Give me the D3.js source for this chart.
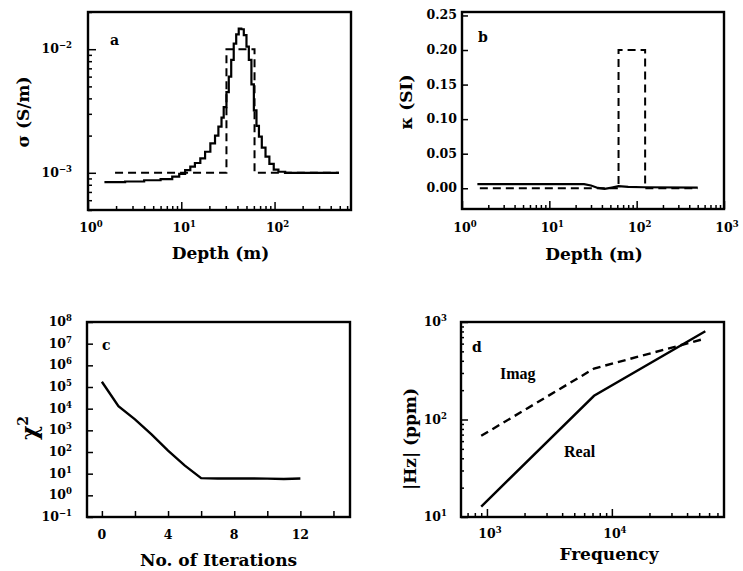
<!DOCTYPE html>
<html>
<head>
<meta charset="utf-8">
<script src="https://cdn.jsdelivr.net/npm/d3@7"></script>
<style>
  body { margin: 0; background: #fff; }
  svg text { fill: #000; }
</style>
</head>
<body>
<svg id="fig" width="743" height="571"></svg>
<script>
// ---- Panel a: conductivity vs depth (layer tops in m, value holds down to next top)
const depthInv = [1.5, 2.5, 4, 6, 8, 9.5, 11, 12.5, 14, 16, 18, 20.5, 23, 25, 27, 28.5, 30.5, 32.3, 34.3, 36.5,
                  38.8, 41.3, 44, 46.8, 50, 53, 56.5, 60, 64, 68, 73, 80, 88, 98, 110, 130, 490];
const sigmaInv = [8.4e-4, 8.5e-4, 8.7e-4, 8.9e-4, 9.3e-4, 9.8e-4, 1.05e-3, 1.12e-3, 1.2e-3, 1.31e-3,
                  1.48e-3, 1.73e-3, 2.0e-3, 2.36e-3, 2.8e-3, 3.4e-3, 4.5e-3, 6.0e-3, 8.2e-3, 1.11e-2,
                  1.32e-2, 1.47e-2, 1.45e-2, 1.3e-2, 1.05e-2, 8.2e-3, 5.2e-3, 3.2e-3, 2.4e-3, 1.96e-3,
                  1.6e-3, 1.35e-3, 1.18e-3, 1.06e-3, 1.02e-3, 1.0e-3, 1.0e-3];
const depthTrue = [1.95, 30.5, 61, 490];
const sigmaTrue = [1e-3, 1e-2, 1e-3, 1e-3];

// ---- Panel b: susceptibility vs depth
const depthKappaInv = [1.5, 25, 30, 36, 43, 52, 62, 80, 120, 500];
const kappaInv = [0.006, 0.006, 0.004, 0.0005, -0.001, 0.001, 0.003, 0.002, 0.0015, 0.001];
const depthKappaTrue = [1.6, 62, 125, 500];
const kappaTrue = [0, 0.2, 0, 0];

// ---- Panel c: misfit per iteration
const iterations = [0, 1, 2, 3, 4, 5, 6, 7, 8, 9, 10, 11, 12];
const chi2 = [1.74e5, 1.3e4, 3.2e3, 6.5e2, 1.15e2, 2.4e1, 6.2, 6.0, 6.0, 6.0, 5.9, 5.7, 6.0];

// ---- Panel d: Hz response vs frequency
const freq = [900, 7200, 56000];
const hzReal = [12.8, 175, 803];
const hzImag = [68, 333, 676];

// ---- Tick labels
const expTicksA_x = [0, 1, 2];
const expTicksA_y = [-3, -2];
const expTicksB_x = [0, 1, 2, 3];
const ticksB_y = [0, 0.05, 0.10, 0.15, 0.20, 0.25];
const ticksC_x = [0, 4, 8, 12];
const expTicksC_y = [-1, 0, 1, 2, 3, 4, 5, 6, 7, 8];
const expTicksD_x = [3, 4];
const expTicksD_y = [1, 2, 3];

const SERIF = "'DejaVu Serif', serif";
const svg = d3.select("#fig");

function frame(box) {
  svg.append("rect")
    .attr("x", box.x0).attr("y", box.y0)
    .attr("width", box.x1 - box.x0).attr("height", box.y1 - box.y0)
    .attr("fill", "none").attr("stroke", "#000").attr("stroke-width", 2.4);
}

// inward ticks on the bottom edge
function bottomTicks(box, x, values, len) {
  const g = svg.append("g").attr("transform", `translate(0,${box.y1})`)
    .call(d3.axisBottom(x).tickValues(values).tickSize(-len).tickFormat(""));
  g.select(".domain").remove();
  g.selectAll("line").attr("stroke", "#000").attr("stroke-width", 1.5);
}
// inward ticks on the left edge
function leftTicks(box, y, values, len) {
  const g = svg.append("g").attr("transform", `translate(${box.x0},0)`)
    .call(d3.axisLeft(y).tickValues(values).tickSize(-len).tickFormat(""));
  g.select(".domain").remove();
  g.selectAll("line").attr("stroke", "#000").attr("stroke-width", 1.5);
}

function powLabel(x, y, exp, anchor) {
  const t = svg.append("text").attr("x", x).attr("y", y)
    .attr("text-anchor", anchor).attr("font-family", SERIF)
    .attr("font-weight", "bold").attr("font-size", 12.5);
  t.append("tspan").text("10");
  t.append("tspan").attr("dy", -5).attr("font-size", 8.5)
    .text(exp < 0 ? "\u2212" + Math.abs(exp) : String(exp));
}

function axisTitle(x, y, text, rotate, size) {
  const t = svg.append("text").attr("font-family", SERIF).attr("font-weight", "bold")
    .attr("font-size", size || 17).attr("text-anchor", "middle");
  if (rotate) t.attr("transform", `translate(${x},${y}) rotate(-90)`);
  else t.attr("x", x).attr("y", y);
  return t.text(text);
}

function panelLetter(x, y, s) {
  svg.append("text").attr("x", x).attr("y", y).attr("font-family", SERIF)
    .attr("font-weight", "bold").attr("font-size", 14).text(s);
}

function isDecade(v) { return Math.abs(Math.log10(v) - Math.round(Math.log10(v))) < 1e-9; }

function drawLine(x, y, xs, ys, opts) {
  const pts = xs.map((d, i) => [d, ys[i]]);
  const line = d3.line().x(d => x(d[0])).y(d => y(d[1]));
  if (opts.step) line.curve(d3.curveStepAfter);
  svg.append("path").datum(pts).attr("d", line)
    .attr("fill", "none").attr("stroke", "#000")
    .attr("stroke-width", opts.width || 2)
    .attr("stroke-linejoin", "miter")
    .attr("stroke-dasharray", opts.dash ? "8,5" : null);
}

// ================= Panel a =================
{
  const box = { x0: 88, x1: 351, y0: 12, y1: 210 };
  const x = d3.scaleLog().domain([1, 660]).range([box.x0, box.x1]);
  const y = d3.scaleLog().domain([5e-4, 2e-2]).range([box.y1, box.y0]);
  const xt = x.ticks();
  bottomTicks(box, x, xt.filter(d => !isDecade(d)), 4);
  bottomTicks(box, x, xt.filter(isDecade), 8);
  const yt = y.ticks();
  leftTicks(box, y, yt.filter(d => !isDecade(d)), 4);
  leftTicks(box, y, yt.filter(isDecade), 8);
  expTicksA_x.forEach(e => powLabel(x(Math.pow(10, e)) + 3, box.y1 + 22, e, "middle"));
  expTicksA_y.forEach(e => powLabel(box.x0 - 16, y(Math.pow(10, e)) + 4, e, "end"));
  drawLine(x, y, depthTrue, sigmaTrue, { step: true, dash: true, width: 2 });
  drawLine(x, y, depthInv, sigmaInv, { step: true, width: 2.2 });
  frame(box);
  panelLetter(110, 45, "a");
  axisTitle((box.x0 + box.x1) / 2 + 1, 259, "Depth (m)");
  axisTitle(29, 112, "\u03c3 (S/m)", true);
}

// ================= Panel b =================
{
  const box = { x0: 462, x1: 724, y0: 12, y1: 209 };
  const x = d3.scaleLog().domain([1, 1000]).range([box.x0, box.x1]);
  const y = d3.scaleLinear().domain([-0.03, 0.255]).range([box.y1, box.y0]);
  const xt = x.ticks();
  bottomTicks(box, x, xt.filter(d => !isDecade(d)), 4);
  bottomTicks(box, x, xt.filter(isDecade), 8);
  leftTicks(box, y, ticksB_y, 6);
  expTicksB_x.forEach(e => powLabel(x(Math.pow(10, e)) + 3, box.y1 + 23, e, "middle"));
  ticksB_y.forEach(v => {
    svg.append("text").attr("x", box.x0 - 5).attr("y", y(v) + 4)
      .attr("text-anchor", "end").attr("font-family", SERIF)
      .attr("font-weight", "bold").attr("font-size", 12.5).text(v.toFixed(2));
  });
  drawLine(x, y, depthKappaTrue, kappaTrue, { step: true, dash: true, width: 2 });
  drawLine(x, y, depthKappaInv, kappaInv, { width: 2.2 });
  frame(box);
  panelLetter(478, 42, "b");
  axisTitle((box.x0 + box.x1) / 2 + 1, 260, "Depth (m)");
  axisTitle(412, 102, "\u03ba (SI)", true);
}

// ================= Panel c =================
{
  const box = { x0: 87, x1: 350, y0: 322, y1: 517 };
  const x = d3.scaleLinear().domain([-0.9, 15]).range([box.x0, box.x1]);
  const y = d3.scaleLog().domain([1e-1, 1e8]).range([box.y1, box.y0]);
  bottomTicks(box, x, d3.range(0, 15, 2), 6);
  leftTicks(box, y, expTicksC_y.map(e => Math.pow(10, e)), 6);
  ticksC_x.forEach(v => {
    svg.append("text").attr("x", x(v)).attr("y", box.y1 + 22)
      .attr("text-anchor", "middle").attr("font-family", SERIF)
      .attr("font-weight", "bold").attr("font-size", 12.5).text(v);
  });
  expTicksC_y.forEach(e => powLabel(box.x0 - 15, y(Math.pow(10, e)) + 4, e, "end"));
  drawLine(x, y, iterations, chi2, { width: 2.4 });
  frame(box);
  panelLetter(102, 350, "c");
  axisTitle((box.x0 + box.x1) / 2, 566, "No. of Iterations");
  const t = svg.append("text").attr("font-family", SERIF).attr("font-weight", "bold")
    .attr("font-size", 22).attr("text-anchor", "middle")
    .attr("transform", "translate(37,428) rotate(-90)");
  t.append("tspan").text("\u03c7");
  t.append("tspan").attr("dy", -9).attr("font-size", 14).text("2");
}

// ================= Panel d =================
{
  const box = { x0: 461, x1: 724, y0: 322, y1: 517 };
  const x = d3.scaleLog().domain([620, 79000]).range([box.x0, box.x1]);
  const y = d3.scaleLog().domain([10, 1000]).range([box.y1, box.y0]);
  const xt = x.ticks();
  bottomTicks(box, x, xt.filter(d => !isDecade(d)), 4);
  bottomTicks(box, x, xt.filter(isDecade), 8);
  const yt = y.ticks();
  leftTicks(box, y, yt.filter(d => !isDecade(d)), 3);
  leftTicks(box, y, yt.filter(isDecade), 7);
  expTicksD_x.forEach(e => powLabel(x(Math.pow(10, e)) + 3, box.y1 + 21, e, "middle"));
  expTicksD_y.forEach(e => powLabel(box.x0 - 14, y(Math.pow(10, e)) + 4, e, "end"));
  drawLine(x, y, freq, hzImag, { dash: true, width: 2.4 });
  drawLine(x, y, freq, hzReal, { width: 2.4 });
  frame(box);
  panelLetter(472, 352, "d");
  svg.append("text").attr("x", 500).attr("y", 379).attr("font-family", "'Liberation Serif', serif")
    .attr("font-weight", "bold").attr("font-size", 16).text("Imag");
  svg.append("text").attr("x", 564).attr("y", 457).attr("font-family", "'Liberation Serif', serif")
    .attr("font-weight", "bold").attr("font-size", 16).text("Real");
  axisTitle(609, 560, "Frequency");
  axisTitle(416, 439, "|Hz| (ppm)", true);
}
</script>
</body>
</html>
